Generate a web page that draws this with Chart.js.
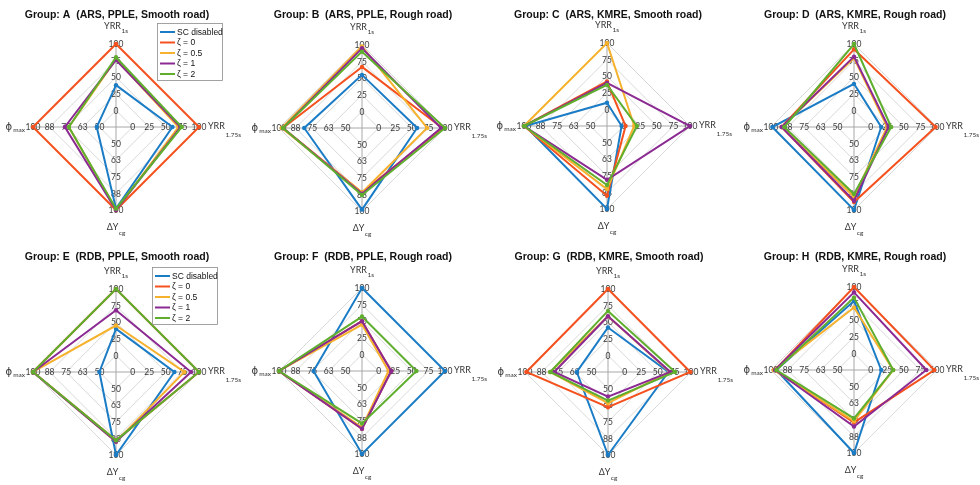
<!DOCTYPE html>
<html>
<head>
<meta charset="utf-8">
<script src="https://cdn.jsdelivr.net/npm/chart.js@4.4.1/dist/chart.umd.min.js"></script>
<style>
  html, body { margin: 0; padding: 0; background: #fff; }
  #wrap { position: relative; width: 980px; height: 485px; overflow: hidden; }
  .cell { position: absolute; }
</style>
</head>
<body>
<div id="wrap"></div>
<script>
// Spoke order (clockwise from top): YRR 1s, YRR 1.75s, ΔY cg, φ max
const axisMain = ['YRR', 'YRR', 'ΔY', 'ϕ'];
const axisSub = ['1s', '1.75s', 'cg', 'max'];

// Ring labels along each spoke (inner ring → outer ring)
const ticksYRR1s = ['0', '25', '50', '75', '100'];
const ticksYRR175s = ['0', '25', '50', '75', '100'];
const ticksDeltaY = ['50', '63', '75', '88', '100'];
const ticksPhiMax = ['50', '63', '75', '88', '100'];

// Value at the centre and value per ring for each spoke
const axisLow = [-25, -25, 37.5, 37.5];
const axisStep = [25, 25, 12.5, 12.5];

const seriesNames = ['SC disabled', 'ζ = 0', 'ζ = 0.5', 'ζ = 1', 'ζ = 2'];
const seriesColors = ['#1b7cc6', '#f4511e', '#f6b12d', '#8b2a92', '#5fae2e'];

const groupTitles = [
  'Group: A  (ARS, PPLE, Smooth road)',
  'Group: B  (ARS, PPLE, Rough road)',
  'Group: C  (ARS, KMRE, Smooth road)',
  'Group: D  (ARS, KMRE, Rough road)',
  'Group: E  (RDB, PPLE, Smooth road)',
  'Group: F  (RDB, PPLE, Rough road)',
  'Group: G  (RDB, KMRE, Smooth road)',
  'Group: H  (RDB, KMRE, Rough road)'
];

// Rows: SC disabled, ζ=0, ζ=0.5, ζ=1, ζ=2 ; columns: YRR1s, YRR1.75s, ΔYcg, φmax
const valuesA = [[38, 60, 99, 52], [100, 100, 100, 100], [77, 69, 100, 73], [76, 72, 100, 76], [80, 74, 99, 73]];
const valuesB = [[55, 58, 99, 81], [67, 96, 86, 97], [98, 73, 86, 98], [95, 94, 87, 97], [90, 100, 88, 97]];
const valuesC = [[10, -3, 100, 99], [42, 3, 90, 100], [100, 16, 85, 100], [40, 100, 78, 100], [37, 20, 82, 100]];
const valuesD = [[40, 16, 100, 99], [92, 98, 94, 92], [79, 25, 90, 92], [81, 27, 93, 92], [100, 31, 88, 90]];
const valuesE = [[40, 63, 100, 50], [100, 100, 89, 100], [45, 78, 90, 100], [68, 88, 90, 100], [100, 100, 89, 100]];
const valuesF = [[100, 100, 100, 74], [50, 19, 81, 100], [45, 15, 80, 100], [50, 19, 81, 100], [57, 57, 77, 100]];
const valuesG = [[42, 66, 100, 61], [100, 99, 64, 99], [59, 68, 61, 81], [59, 69, 56, 78], [67, 76, 59, 81]];
const valuesH = [[79, 16, 100, 96], [100, 96, 77, 97], [69, 34, 76, 98], [92, 84, 80, 97], [84, 34, 74, 96]];

const groupValues = [valuesA, valuesB, valuesC, valuesD, valuesE, valuesF, valuesG, valuesH];

// Panel geometry
const CELL_W = 245, CELL_H = 242, R = 83;
const centers = [[116, 127], [117, 128], [117, 126], [119, 127], [116, 130], [117, 129], [118, 130], [119, 128]];
const legendPanels = { 0: [157, 23], 4: [152, 25] };

const tickSets = [ticksYRR1s, ticksYRR175s, ticksDeltaY, ticksPhiMax];
const toRing = (v, i) => (v - axisLow[i]) / axisStep[i];

function drawSubLabel(ctx, main, sub, x, y, align, subDy) {
  ctx.font = '9px Lato, "Open Sans", sans-serif';
  const wMain = ctx.measureText(main).width;
  ctx.font = '6.5px Lato, "Open Sans", sans-serif';
  const wSub = ctx.measureText(sub).width;
  const total = wMain + wSub + 0.5;
  let x0 = x;
  if (align === 'center') x0 = x - total / 2;
  else if (align === 'right') x0 = x - total;
  ctx.textAlign = 'left';
  ctx.textBaseline = 'alphabetic';
  ctx.fillStyle = '#333';
  ctx.font = '9px Lato, "Open Sans", sans-serif';
  ctx.fillText(main, x0, y);
  ctx.font = '6.5px Lato, "Open Sans", sans-serif';
  ctx.fillText(sub, x0 + wMain + 0.5, y + subDy);
}

const spiderDecor = {
  id: 'spiderDecor',
  beforeDatasetsDraw(chart) {
    const scale = chart.scales.r;
    const ctx = chart.ctx;
    ctx.save();
    ctx.font = '8.5px Lato, "Open Sans", sans-serif';
    ctx.fillStyle = '#3a3a3a';
    ctx.textAlign = 'center';
    ctx.textBaseline = 'middle';
    tickSets.forEach((labels, i) => {
      labels.forEach((lab, k) => {
        const p = scale.getPointPositionForValue(i, k + 1);
        ctx.fillText(lab, p.x, p.y + 0.5);
      });
    });
    ctx.restore();
  },
  afterDatasetsDraw(chart) {
    const scale = chart.scales.r;
    const ctx = chart.ctx;
    const cx = scale.xCenter, cy = scale.yCenter, r = scale.drawingArea;
    const opts = chart.options.plugins.spiderDecor;
    ctx.save();
    // Spoke names
    drawSubLabel(ctx, axisMain[0], axisSub[0], cx, cy - r - 15, 'center', 3.5);
    drawSubLabel(ctx, axisMain[1], axisSub[1], cx + r + 9, cy + 1.5, 'left', 8);
    drawSubLabel(ctx, axisMain[2], axisSub[2], cx, cy + r + 20, 'center', 5);
    ctx.font = '10px "DejaVu Sans", sans-serif';
    const phiW = ctx.measureText(axisMain[3]).width;
    ctx.font = '6.5px Lato, "Open Sans", sans-serif';
    const maxW = ctx.measureText(axisSub[3]).width;
    const xr = cx - r - 8;
    ctx.fillStyle = '#333';
    ctx.textAlign = 'left';
    ctx.fillText(axisSub[3], xr - maxW, cy + 5);
    ctx.font = '10px "DejaVu Sans", sans-serif';
    ctx.fillText(axisMain[3], xr - maxW - phiW - 1, cy + 2.5);

    // Title
    ctx.font = 'bold 10.5px "Liberation Sans", Arial, sans-serif';
    ctx.fillStyle = '#111';
    ctx.textAlign = 'center';
    ctx.fillText(opts.title, cx + 1, 17.5);

    // Legend
    if (opts.legendAt) {
      const [lx, ly] = opts.legendAt;
      const w = 65, h = 57;
      ctx.fillStyle = '#fff';
      ctx.fillRect(lx, ly, w, h);
      ctx.strokeStyle = '#8c8c8c';
      ctx.lineWidth = 0.8;
      ctx.strokeRect(lx + 0.5, ly + 0.5, w, h);
      ctx.font = '8.5px "Liberation Sans", Arial, sans-serif';
      ctx.textBaseline = 'middle';
      ctx.textAlign = 'left';
      chart.data.datasets.forEach((ds, j) => {
        const y = ly + 9 + j * 10.5;
        ctx.strokeStyle = ds.borderColor;
        ctx.lineWidth = 2;
        ctx.beginPath();
        ctx.moveTo(lx + 3, y);
        ctx.lineTo(lx + 18, y);
        ctx.stroke();
        ctx.fillStyle = '#111';
        ctx.fillText(ds.label, lx + 20, y + 0.5);
      });
    }
    ctx.restore();
  }
};

const wrap = document.getElementById('wrap');
groupValues.forEach((vals, g) => {
  const col = g % 4, row = Math.floor(g / 4);
  const div = document.createElement('div');
  div.className = 'cell';
  div.style.left = (col * CELL_W) + 'px';
  div.style.top = (row * CELL_H) + 'px';
  const canvas = document.createElement('canvas');
  canvas.width = CELL_W;
  canvas.height = CELL_H + row;
  div.appendChild(canvas);
  wrap.appendChild(div);

  const [cx, cy] = centers[g];
  const datasets = vals.map((rowVals, s) => ({
    label: seriesNames[s],
    data: rowVals.map((v, i) => toRing(v, i)),
    // later series are painted over earlier ones
    order: vals.length - 1 - s,
    borderColor: seriesColors[s],
    backgroundColor: seriesColors[s],
    pointBackgroundColor: seriesColors[s],
    pointBorderColor: seriesColors[s],
    pointRadius: 2.2,
    pointBorderWidth: 0,
    borderWidth: 2,
    fill: false,
    tension: 0
  }));

  new Chart(canvas, {
    type: 'radar',
    data: { labels: axisSub.map((s, i) => axisMain[i] + s), datasets },
    options: {
      responsive: false,
      animation: false,
      layout: {
        padding: { left: cx - R, right: CELL_W - cx - R, top: cy - R, bottom: CELL_H + row - cy - R }
      },
      plugins: {
        legend: { display: false },
        tooltip: { enabled: false },
        title: { display: false },
        spiderDecor: { title: groupTitles[g], legendAt: legendPanels[g] || null }
      },
      scales: {
        r: {
          min: 0,
          max: 5,
          ticks: { display: false, stepSize: 1 },
          pointLabels: { display: false },
          grid: { color: '#d9d9d9', lineWidth: 1 },
          angleLines: { color: '#a8a8a8', lineWidth: 1 }
        }
      }
    },
    plugins: [spiderDecor]
  });
});
</script>
</body>
</html>
